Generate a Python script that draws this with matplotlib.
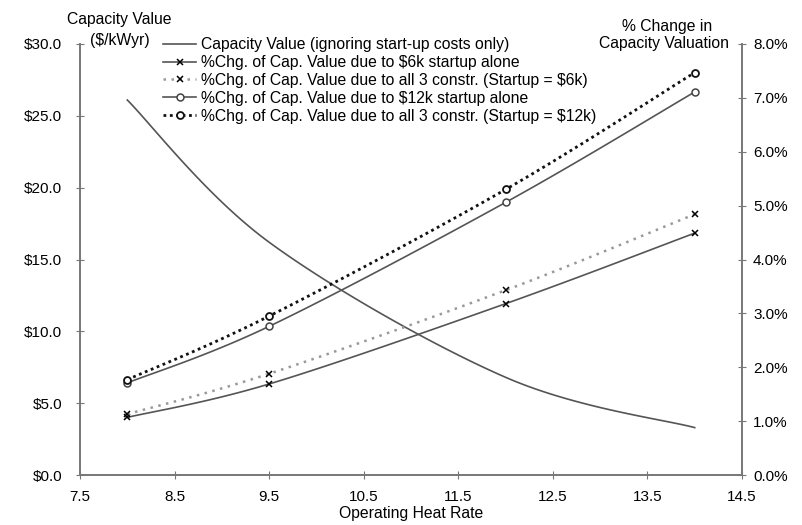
import numpy as np
import matplotlib
matplotlib.use("Agg")
from matplotlib import pyplot as plt
from matplotlib.ticker import FuncFormatter

plt.rcParams['font.family'] = ['Liberation Sans', 'DejaVu Sans']

heat_rate = [8.0, 9.5, 12.0, 14.0]
cap_value = [26.1, 16.2, 6.8, 3.3]
chg_6k_alone = [1.07, 1.69, 3.18, 4.49]
chg_6k_all3 = [1.13, 1.88, 3.43, 4.84]
chg_12k_alone = [1.71, 2.76, 5.06, 7.11]
chg_12k_all3 = [1.77, 2.95, 5.30, 7.47]


def smooth(x, y, n=40):
    # excel-style bezier smoothing through the data points
    x = np.asarray(x, float)
    y = np.asarray(y, float)
    px = np.concatenate([[x[0]], x, [x[-1]]])
    py = np.concatenate([[y[0]], y, [y[-1]]])
    xs, ys = [], []
    for i in range(len(x) - 1):
        p0 = np.array([px[i], py[i]])
        p1 = np.array([px[i + 1], py[i + 1]])
        p2 = np.array([px[i + 2], py[i + 2]])
        p3 = np.array([px[i + 3], py[i + 3]])
        c1 = p1 + (p2 - p0) / 6
        c2 = p2 - (p3 - p1) / 6
        t = np.linspace(0, 1, n)[:, None]
        b = ((1 - t) ** 3) * p1 + 3 * ((1 - t) ** 2) * t * c1 + 3 * (1 - t) * t ** 2 * c2 + t ** 3 * p2
        xs.append(b[:, 0])
        ys.append(b[:, 1])
    return np.concatenate(xs), np.concatenate(ys)


fig = plt.figure(figsize=(8.02, 5.25), dpi=100)
ax = fig.add_axes([0.0998, 0.0952, 0.8254, 0.8210])
ax2 = ax.twinx()

axis_col = '#777777'
for a in (ax, ax2):
    a.spines['top'].set_visible(False)
    for s in ('left', 'right', 'bottom'):
        a.spines[s].set_color(axis_col)
        a.spines[s].set_linewidth(1.2)
    a.tick_params(direction='inout', length=6, color=axis_col, labelsize=11)
ax.tick_params(axis='y', pad=10)
ax2.tick_params(axis='y', pad=5)

# capacity value on left axis
sx, sy = smooth(heat_rate, cap_value)
l0, = ax.plot(sx, sy, color='#555555', lw=1.2,
              label='Capacity Value (ignoring start-up costs only)')

# percent change series on right axis
sx, sy = smooth(heat_rate, chg_6k_alone)
ax2.plot(sx, sy, color='#555555', lw=1.2)
ax2.plot(heat_rate, chg_6k_alone, ls='none', marker='x', ms=5, mec='black', mew=1.1)
l1, = ax2.plot([], [], color='#555555', lw=1.2, marker='x', ms=5, mec='black', mew=1.1,
               label='%Chg. of Cap. Value due to $6k startup alone')

sx, sy = smooth(heat_rate, chg_6k_all3)
ax2.plot(sx, sy, color='#999999', lw=1.8, ls=(0, (1, 2.2)))
ax2.plot(heat_rate, chg_6k_all3, ls='none', marker='x', ms=5, mec='black', mew=1.1)
l2, = ax2.plot([], [], color='#999999', lw=1.8, ls=(0, (1, 2.2)), marker='x', ms=5,
               mec='black', mew=1.1,
               label='%Chg. of Cap. Value due to all 3 constr. (Startup = $6k)')

sx, sy = smooth(heat_rate, chg_12k_alone)
ax2.plot(sx, sy, color='#555555', lw=1.2)
ax2.plot(heat_rate, chg_12k_alone, ls='none', marker='o', ms=5, mfc='white', mec='#444444', mew=1.1)
l3, = ax2.plot([], [], color='#555555', lw=1.2, marker='o', ms=5, mfc='white', mec='#444444',
               mew=1.1, label='%Chg. of Cap. Value due to $12k startup alone')

sx, sy = smooth(heat_rate, chg_12k_all3)
ax2.plot(sx, sy, color='#111111', lw=2.0, ls=(0, (1, 1.3)))
ax2.plot(heat_rate, chg_12k_all3, ls='none', marker='o', ms=5, mfc='white', mec='#111111', mew=1.3)
l4, = ax2.plot([], [], color='#111111', lw=2.0, ls=(0, (1, 1.3)), marker='o', ms=5, mfc='white',
               mec='#111111', mew=1.3,
               label='%Chg. of Cap. Value due to all 3 constr. (Startup = $12k)')

ax.set_xlim(7.5, 14.5)
ax.set_ylim(0, 30)
ax2.set_ylim(0, 8)
ax.set_xticks(np.arange(7.5, 14.6, 1.0))
ax.set_yticks(np.arange(0, 30.1, 5))
ax2.set_yticks(np.arange(0, 8.1, 1))
ax.xaxis.set_major_formatter(FuncFormatter(lambda v, p: f'{v:.1f}'))
ax.yaxis.set_major_formatter(FuncFormatter(lambda v, p: f'${v:.1f}'))
ax2.yaxis.set_major_formatter(FuncFormatter(lambda v, p: f'{v:.1f}%'))
ax.tick_params(axis='x', pad=8)

ax.set_xlabel('Operating Heat Rate', fontsize=11.3, labelpad=1)

fig.text(0.149, 0.962, 'Capacity Value', fontsize=11.3, ha='center', va='center')
fig.text(0.150, 0.922, '($/kWyr)', fontsize=11.3, ha='center', va='center')
fig.text(0.832, 0.949, '% Change in', fontsize=11.3, ha='center', va='center')
fig.text(0.9095, 0.918, 'Capacity Valuation', fontsize=11.3, ha='right', va='center')

fig.legend(handles=[l0, l1, l2, l3, l4], loc='upper left', bbox_to_anchor=(0.193, 0.944),
           frameon=False, fontsize=11.3, handlelength=2.15, handletextpad=0.3,
           labelspacing=0.18, borderpad=0)

fig.savefig('out.png', dpi=100)
